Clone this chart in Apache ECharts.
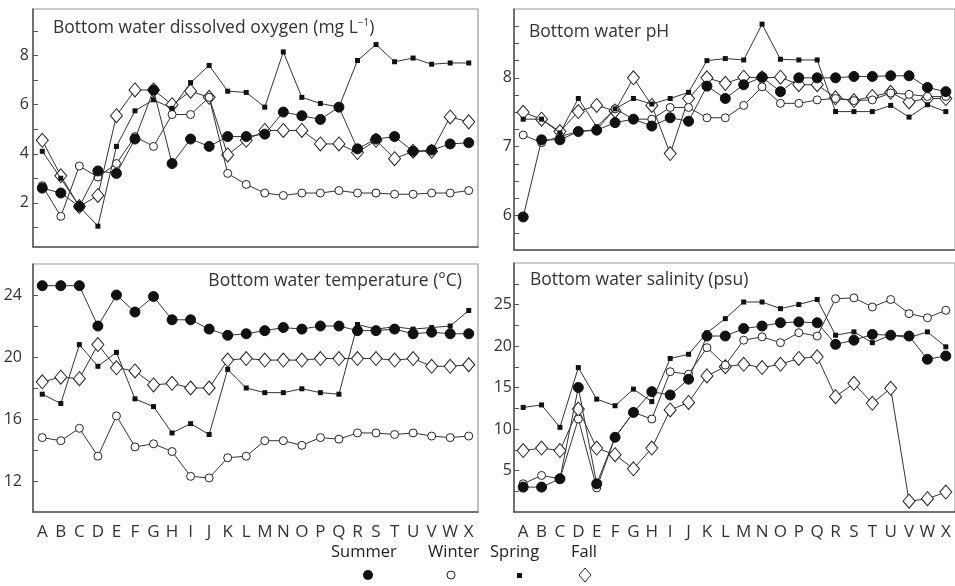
<!DOCTYPE html>
<html>
<head>
<meta charset="utf-8">
<script src="https://cdn.jsdelivr.net/npm/echarts@6/dist/echarts.min.js"></script>
<style>
  html, body { margin: 0; padding: 0; background: #fff; }
  #chart { width: 955px; height: 586px; }
</style>
</head>
<body>
<div id="chart"></div>
<script>
var stations = ['A','B','C','D','E','F','G','H','I','J','K','L','M','N','O','P','Q','R','S','T','U','V','W','X'];

// dissolved oxygen (mg/L)
var doSummer = [2.6,2.4,1.85,3.3,3.2,4.6,6.6,3.6,4.6,4.3,4.7,4.7,4.8,5.7,5.55,5.4,5.9,4.2,4.6,4.7,4.1,4.15,4.4,4.45];
var doWinter = [2.7,1.45,3.5,3.05,3.6,4.7,4.3,5.6,5.6,6.3,3.2,2.75,2.4,2.3,2.4,2.4,2.5,2.4,2.4,2.35,2.35,2.4,2.4,2.5];
var doSpring = [4.1,3.0,1.85,1.05,4.3,5.75,6.2,5.85,6.9,7.6,6.55,6.5,5.9,8.15,6.3,6.05,5.9,7.8,8.45,7.75,7.9,7.65,7.7,7.7];
var doFall   = [4.55,3.1,1.85,2.3,5.55,6.6,6.6,6.0,6.55,6.3,3.95,4.55,4.95,4.95,4.95,4.4,4.4,4.05,4.55,3.8,4.1,4.1,5.5,5.3];

// pH
var phSummer = [5.98,7.1,7.1,7.22,7.24,7.35,7.4,7.3,7.42,7.37,7.88,7.7,7.9,8.01,7.8,8.0,8.0,8.0,8.02,8.02,8.03,8.03,7.86,7.8];
var phWinter = [7.17,7.06,7.15,7.22,7.25,7.55,7.4,7.4,7.57,7.57,7.42,7.42,7.6,7.87,7.63,7.63,7.68,7.7,7.67,7.68,7.78,7.76,7.73,7.73];
var phSpring = [7.4,7.4,7.2,7.7,7.29,7.55,7.7,7.62,7.7,7.79,8.25,8.28,8.26,8.78,8.27,8.26,8.26,7.51,7.51,7.51,7.6,7.43,7.61,7.51];
var phFall   = [7.5,7.4,7.22,7.51,7.6,7.52,8.0,7.6,6.9,7.7,8.0,7.92,8.01,8.0,8.01,7.9,7.9,7.71,7.67,7.73,7.79,7.65,7.7,7.7];

// temperature (°C)
var tSummer = [24.6,24.6,24.6,22.0,24.0,22.9,23.9,22.4,22.4,21.8,21.4,21.5,21.7,21.9,21.8,22.0,22.0,21.7,21.7,21.8,21.5,21.6,21.5,21.5];
var tWinter = [14.8,14.6,15.4,13.6,16.2,14.2,14.4,13.9,12.3,12.2,13.5,13.6,14.6,14.6,14.3,14.8,14.7,15.1,15.1,15.0,15.1,14.9,14.8,14.9];
var tSpring = [17.6,17.0,20.8,19.4,20.3,17.3,16.8,15.1,15.7,15.0,19.2,18.0,17.7,17.7,17.95,17.7,17.6,22.1,21.8,21.95,21.8,21.9,22.0,23.0];
var tFall   = [18.4,18.7,18.6,20.8,19.3,19.1,18.2,18.3,18.0,18.0,19.8,19.9,19.8,19.8,19.8,19.9,19.9,19.9,19.9,19.8,19.9,19.4,19.4,19.5];

// salinity (psu)
var sSummer = [3.0,3.0,4.0,15.0,3.4,9.0,12.0,14.5,14.1,16.0,21.2,21.2,22.1,22.4,22.8,22.9,22.8,20.2,20.7,21.4,21.3,21.2,18.4,18.8];
var sWinter = [3.4,4.4,4.0,11.2,2.9,9.0,12.0,11.2,16.9,16.6,19.8,17.7,20.7,21.1,20.4,21.6,21.2,25.7,25.8,24.7,25.6,23.9,23.4,24.3];
var sSpring = [12.6,12.9,10.2,17.4,13.6,12.8,14.8,13.3,18.5,19.0,21.6,23.3,25.3,25.3,24.5,25.0,25.6,21.3,21.7,20.4,21.3,21.0,21.7,19.9];
var sFall   = [7.4,7.7,7.4,12.4,7.7,6.9,5.2,7.7,12.3,13.2,16.4,17.5,17.8,17.4,17.8,18.5,18.7,13.9,15.5,13.1,14.9,1.3,1.6,2.4];

var seasons = ['Summer', 'Winter', 'Spring', 'Fall'];

// tick labels / tick marks for each y axis
var doLabels = [2, 4, 6, 8];
var doTicks = [1, 2, 3, 4, 5, 6, 7, 8, 9];
var phLabels = [6, 7, 8];
var phTicks = [5.75, 6, 6.25, 6.5, 6.75, 7, 7.25, 7.5, 7.75, 8, 8.25, 8.5, 8.75];
var tLabels = [12, 16, 20, 24];
var tTicks = [12, 14, 16, 18, 20, 22, 24];
var sLabels = [5, 10, 15, 20, 25];
var sTicks = [2.5, 5, 7.5, 10, 12.5, 15, 17.5, 20, 22.5, 25, 27.5];

var chart = echarts.init(document.getElementById('chart'));
var FONT = '"Open Sans", "Noto Sans", sans-serif';

var grids = [
    {left: 33, top: 9, width: 445, height: 238},
    {left: 514, top: 9, width: 446, height: 241},
    {left: 33, top: 264, width: 445, height: 248},
    {left: 514, top: 263, width: 446, height: 249}
];
grids.forEach(function (g) {
    g.show = true;
    g.borderColor = '#9a9a9a';
    g.borderWidth = 1.2;
    g.containLabel = false;
});

function xAxis(i, showLabel) {
    return {
        type: 'category',
        gridIndex: i,
        data: stations,
        boundaryGap: true,
        axisLine: {lineStyle: {color: '#555', width: 1.5}},
        axisTick: {alignWithLabel: true, inside: true, length: 5, lineStyle: {color: '#555'}},
        axisLabel: {show: showLabel, interval: 0, margin: 12, color: '#333', fontSize: 17, fontFamily: FONT}
    };
}

function yAxis(i, min, max, labels, ticks, margin) {
    return {
        type: 'value',
        gridIndex: i,
        min: min,
        max: max,
        axisLine: {show: true, lineStyle: {color: '#555', width: 1.5}},
        axisTick: {show: true, inside: true, length: 5, customValues: ticks, lineStyle: {color: '#555'}},
        axisLabel: {customValues: labels, margin: margin, color: '#333', fontSize: 16, fontFamily: FONT},
        splitLine: {show: false}
    };
}

var styles = {
    Summer: {symbol: 'circle', symbolSize: 10, itemStyle: {color: '#111', borderColor: '#111', borderWidth: 1}},
    Winter: {symbol: 'circle', symbolSize: 8, itemStyle: {color: '#fff', borderColor: '#222', borderWidth: 1}},
    Spring: {symbol: 'rect', symbolSize: 5, itemStyle: {color: '#111', borderColor: '#111', borderWidth: 0}},
    Fall:   {symbol: 'diamond', symbolSize: [12, 14], itemStyle: {color: '#fff', borderColor: '#222', borderWidth: 1}}
};

function line(name, data, i, z) {
    var s = styles[name];
    return {
        name: name,
        type: 'line',
        xAxisIndex: i,
        yAxisIndex: i,
        data: data,
        symbol: s.symbol,
        symbolSize: s.symbolSize,
        showAllSymbol: true,
        itemStyle: s.itemStyle,
        lineStyle: {color: '#333', width: 1},
        z: z,
        emphasis: {disabled: true}
    };
}

var panelData = [
    [doSummer, doWinter, doSpring, doFall],
    [phSummer, phWinter, phSpring, phFall],
    [tSummer, tWinter, tSpring, tFall],
    [sSummer, sWinter, sSpring, sFall]
];

var series = [];
panelData.forEach(function (sets, i) {
    series.push(line('Fall', sets[3], i, 2));
    series.push(line('Winter', sets[1], i, 3));
    series.push(line('Spring', sets[2], i, 4));
    series.push(line('Summer', sets[0], i, 5));
});

var TS = 17.5;
var graphics = [
    {type: 'text', left: 53, top: 18, style: {
        text: 'Bottom water dissolved oxygen (mg L{sup|\u22121})',
        fill: '#333', fontSize: TS, fontFamily: FONT,
        rich: {sup: {fontSize: 10, fontFamily: FONT, fill: '#333', padding: [0, 0, 10, 0]}}
    }},
    {type: 'text', left: 529, top: 23, style: {text: 'Bottom water pH', fill: '#333', fontSize: TS, fontFamily: FONT}},
    {type: 'text', right: 493, top: 272, style: {text: 'Bottom water temperature (\u00B0C)', fill: '#333', fontSize: TS, fontFamily: FONT}},
    {type: 'text', left: 530, top: 271, style: {text: 'Bottom water salinity (psu)', fill: '#333', fontSize: TS, fontFamily: FONT}},

    {type: 'text', left: 331, top: 544, style: {text: seasons[0], fill: '#222', fontSize: 16.5, fontFamily: FONT}},
    {type: 'text', left: 428, top: 544, style: {text: seasons[1], fill: '#222', fontSize: 16.5, fontFamily: FONT}},
    {type: 'text', left: 490, top: 544, style: {text: seasons[2], fill: '#222', fontSize: 16.5, fontFamily: FONT}},
    {type: 'text', left: 571, top: 544, style: {text: seasons[3], fill: '#222', fontSize: 16.5, fontFamily: FONT}},
    {type: 'circle', shape: {cx: 368, cy: 575, r: 5}, style: {fill: '#111'}},
    {type: 'circle', shape: {cx: 451, cy: 575, r: 4}, style: {fill: '#fff', stroke: '#222', lineWidth: 1}},
    {type: 'rect', shape: {x: 517, y: 573, width: 5, height: 5}, style: {fill: '#111'}},
    {type: 'polygon', shape: {points: [[585, 568], [591, 575], [585, 582], [579, 575]]}, style: {fill: '#fff', stroke: '#222', lineWidth: 1}}
];

var option = {
    backgroundColor: '#fff',
    animation: false,
    grid: grids,
    xAxis: [xAxis(0, false), xAxis(1, false), xAxis(2, true), xAxis(3, true)],
    yAxis: [
        yAxis(0, 0.2, 9.9, doLabels, doTicks, 4),
        yAxis(1, 5.5, 9.0, phLabels, phTicks, 2),
        yAxis(2, 10, 26, tLabels, tTicks, 11),
        yAxis(3, 0, 30, sLabels, sTicks, 2)
    ],
    series: series,
    graphic: graphics
};
chart.setOption(option);
</script>
</body>
</html>
